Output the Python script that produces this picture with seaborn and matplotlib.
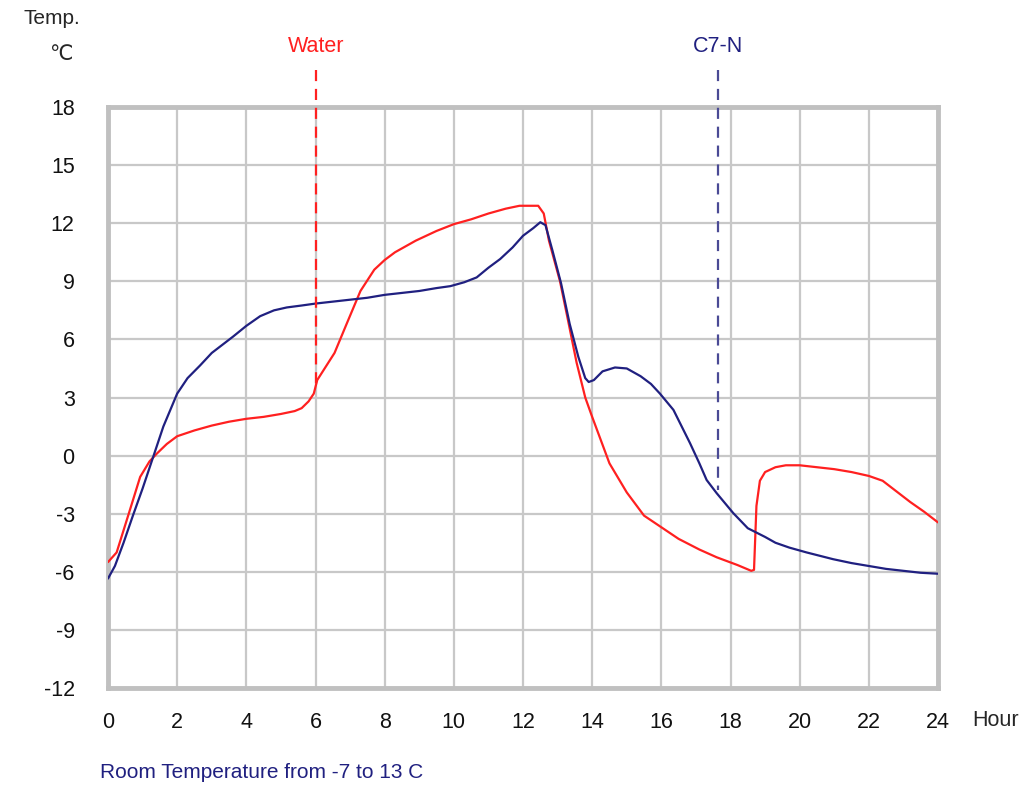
import matplotlib
matplotlib.use("Agg")
import matplotlib.pyplot as plt
import pandas as pd
import seaborn as sns

# ---- data -----------------------------------------------------------------
water_hours = [0, 0.25, 0.6, 0.93, 1.2, 1.41, 1.7, 2.0, 2.5, 3.0, 3.5, 4.0, 4.5,
               5.0, 5.4, 5.6, 5.8, 5.95, 6.05, 6.3, 6.55, 6.9, 7.3, 7.7, 8.0,
               8.3, 8.9, 9.5, 10.0, 10.5, 11.0, 11.5, 11.9, 12.44, 12.6, 12.75,
               13.07, 13.3, 13.55, 13.8, 14.0, 14.5, 15.0, 15.5, 16.0, 16.5,
               17.1, 17.6, 18.2, 18.6, 18.68, 18.75, 18.85, 19.0, 19.3, 19.6,
               20.0, 20.5, 21.0, 21.5, 22.0, 22.4, 22.8, 23.2, 23.6, 24.0]
water_temp = [-5.5, -5.0, -3.0, -1.1, -0.3, 0.1, 0.6, 1.0, 1.3, 1.55, 1.75, 1.9,
              2.0, 2.15, 2.3, 2.45, 2.8, 3.2, 3.9, 4.6, 5.3, 6.8, 8.5, 9.6,
              10.1, 10.5, 11.1, 11.6, 11.95, 12.2, 12.5, 12.75, 12.9, 12.9,
              12.5, 11.1, 9.0, 7.0, 4.8, 3.0, 2.0, -0.4, -1.9, -3.1, -3.7,
              -4.3, -4.85, -5.25, -5.65, -5.95, -5.9, -2.6, -1.3, -0.85, -0.6,
              -0.5, -0.5, -0.6, -0.7, -0.85, -1.05, -1.3, -1.85, -2.4, -2.9,
              -3.45]

c7n_hours = [0, 0.2, 0.45, 0.72, 1.0, 1.31, 1.6, 2.0, 2.3, 2.66, 3.0, 3.62,
             4.0, 4.4, 4.8, 5.17, 5.6, 6.0, 6.5, 7.0, 7.5, 8.0, 8.5, 9.0, 9.5,
             9.9, 10.3, 10.66, 11.0, 11.34, 11.7, 12.0, 12.3, 12.5, 12.65,
             12.85, 13.1, 13.35, 13.6, 13.8, 13.9, 14.05, 14.3, 14.66, 15.0,
             15.4, 15.7, 15.96, 16.35, 16.83, 17.1, 17.31, 17.6, 18.08, 18.5,
             19.0, 19.3, 19.7, 20.2, 20.97, 21.5, 22.0, 22.5, 23.0, 23.5, 24.0]
c7n_temp = [-6.35, -5.7, -4.5, -3.1, -1.7, -0.05, 1.5, 3.2, 4.0, 4.65, 5.3,
            6.15, 6.7, 7.2, 7.5, 7.65, 7.75, 7.85, 7.95, 8.05, 8.15, 8.3, 8.4,
            8.5, 8.65, 8.75, 8.95, 9.2, 9.7, 10.15, 10.75, 11.35, 11.75, 12.05,
            11.9, 10.6, 8.9, 6.8, 5.1, 4.0, 3.8, 3.9, 4.35, 4.55, 4.5, 4.1,
            3.7, 3.2, 2.36, 0.64, -0.4, -1.26, -1.94, -2.97, -3.75, -4.2,
            -4.5, -4.75, -5.0, -5.35, -5.55, -5.7, -5.85, -5.95, -6.05, -6.1]

x_ticks = list(range(0, 25, 2))
y_ticks = list(range(-12, 19, 3))
water_mark = 6.0      # hour water was added
c7n_mark = 17.64      # hour C7-N was added

RED = "#ff2020"
NAVY = "#202080"
GRID = "#c8c8c8"

df = pd.concat([
    pd.DataFrame({"hour": water_hours, "temp": water_temp, "sample": "Water"}),
    pd.DataFrame({"hour": c7n_hours, "temp": c7n_temp, "sample": "C7-N"}),
])

sns.set_style("white")
plt.rcParams["font.family"] = ["Liberation Sans", "DejaVu Sans"]
plt.rcParams["axes.unicode_minus"] = False

fig = plt.figure(figsize=(10.27, 7.85), dpi=100)
ax = fig.add_axes([108 / 1027, 97 / 785, 830 / 1027, 581 / 785])

sns.lineplot(data=df, x="hour", y="temp", hue="sample", sort=False,
             estimator=None, palette={"Water": RED, "C7-N": NAVY},
             linewidth=1.6, legend=False, ax=ax, zorder=3)

ax.set_xlim(0, 24)
ax.set_ylim(-12, 18)
ax.set_xticks(x_ticks)
ax.set_yticks(y_ticks)
ax.grid(True, color=GRID, linewidth=1.6)
ax.set_axisbelow(True)
for sp in ax.spines.values():
    sp.set_color("#c0c0c0")
    sp.set_linewidth(3.5)
ax.tick_params(axis="both", length=0, labelsize=15.5, colors="#111111")
ax.tick_params(axis="x", pad=17)
ax.tick_params(axis="y", pad=24)
ax.set_xlabel("")
ax.set_ylabel("")

# markers for the additions, running above the frame
top = 19.9
ax.plot([water_mark, water_mark], [top, 3.5], color=RED, lw=1.6,
        ls=(0, (5, 3.5)), clip_on=False, zorder=4)
ax.plot([c7n_mark, c7n_mark], [top, -1.8], color="#4a4a95", lw=1.6,
        ls=(0, (5, 3.5)), clip_on=False, zorder=4)

W, H = 1027, 785
fig.text(316 / W, 1 - 47 / H, "Water", color=RED, fontsize=15.5,
         ha="center", va="center")
fig.text(718 / W, 1 - 47 / H, "C7-N", color=NAVY, fontsize=15.5,
         ha="center", va="center")
fig.text(80 / W, 1 - 19 / H, "Temp.", fontsize=15, ha="right", va="center")
fig.text(73 / W, 1 - 55 / H, "\u2103", fontsize=15, ha="right", va="center")
fig.text(972 / W, 1 - 720 / H, "Hour", fontsize=15.5, ha="left", va="center")
fig.text(100 / W, 1 - 772 / H, "Room Temperature from -7 to 13 C",
         color=NAVY, fontsize=15, ha="left", va="center")

fig.savefig("out.png", dpi=100)
